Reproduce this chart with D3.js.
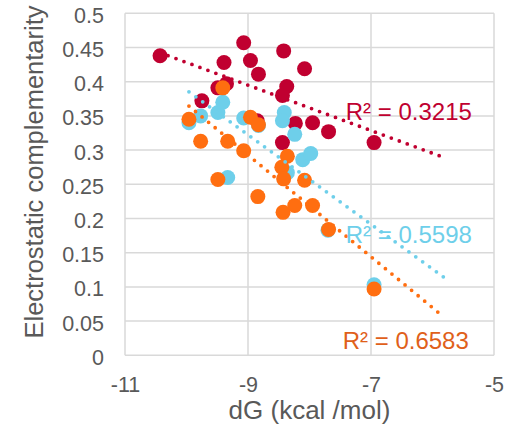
<!DOCTYPE html>
<html>
<head>
<meta charset="utf-8">
<script src="https://cdn.jsdelivr.net/npm/d3@7"></script>
<style>
  html, body { margin: 0; padding: 0; background: #fff; }
  svg { display: block; font-family: "Liberation Sans", Arial, sans-serif; }
</style>
</head>
<body>
<svg id="chart" width="505" height="428"></svg>
<script>
// Binding free energy (kcal/mol) against electrostatic complementarity, three series
const redDG = [-10.43, -9.07, -9.39, -8.96, -8.83, -8.42, -8.08, -8.37, -8.44,
               -9.49, -9.35, -9.75, -8.23, -7.95, -7.69, -6.95, -8.44, -8.85];
const redEC = [0.438, 0.457, 0.428, 0.431, 0.411, 0.445, 0.419, 0.393, 0.380,
               0.391, 0.397, 0.372, 0.339, 0.340, 0.327, 0.311, 0.311, 0.343];

const blueDG = [-9.96, -9.77, -9.49, -9.41, -9.07, -8.83, -8.41, -8.44, -8.24,
                -8.11, -7.98, -9.33, -8.36, -7.70, -6.95];
const blueEC = [0.340, 0.350, 0.355, 0.370, 0.347, 0.336, 0.355, 0.343, 0.323,
                0.286, 0.295, 0.260, 0.267, 0.183, 0.103];

const orangeDG = [-9.96, -9.41, -8.96, -8.83, -9.77, -9.33, -9.07, -9.49, -8.84,
                  -8.36, -8.45, -8.42, -8.08, -8.43, -8.24, -7.95, -7.69, -6.95];
const orangeEC = [0.345, 0.391, 0.348, 0.337, 0.313, 0.313, 0.299, 0.257, 0.232,
                  0.291, 0.275, 0.258, 0.256, 0.209, 0.219, 0.219, 0.184, 0.097];

const r2Labels = ["R² = 0.3215", "R² = 0.5598", "R² = 0.6583"];
const xTicks = [-11, -9, -7, -5];
const yTicks = [0, 0.05, 0.1, 0.15, 0.2, 0.25, 0.3, 0.35, 0.4, 0.45, 0.5];
const xTitle = "dG (kcal /mol)";
const yTitle = "Electrostatic complementarity";
const trendEnd = -5.82; // trendlines are extended forward to here

const svg = d3.select("#chart");
const plotL = 125, plotR = 494, plotT = 13.3, plotB = 355.3;

const x = d3.scaleLinear().domain([-11, -5]).range([plotL, plotR]);
const y = d3.scaleLinear().domain([0, 0.5]).range([plotB, plotT]);

const gridColor = "#d9d9d9";
const textColor = "#595959";

// gridlines
svg.append("g").selectAll("line").data(yTicks).join("line")
  .attr("x1", plotL).attr("x2", plotR)
  .attr("y1", d => y(d)).attr("y2", d => y(d))
  .attr("stroke", gridColor).attr("stroke-width", 1.5);
svg.append("g").selectAll("line").data(xTicks).join("line")
  .attr("x1", d => x(d)).attr("x2", d => x(d))
  .attr("y1", plotT).attr("y2", plotB)
  .attr("stroke", gridColor).attr("stroke-width", 1.5);

// axes (labels only; the frame comes from the gridlines)
const xAxis = d3.axisBottom(x).tickValues(xTicks).tickSize(0).tickPadding(0)
  .tickFormat(d => d < 0 ? "-" + Math.abs(d) : String(d));
const gx = svg.append("g").attr("transform", `translate(0,${plotB})`).call(xAxis);
gx.select(".domain").remove();
gx.selectAll("text")
  .attr("y", 37).attr("dy", null)
  .attr("fill", textColor).attr("font-size", 21.5)
  .attr("font-family", "Liberation Sans, Arial, sans-serif");

const yAxis = d3.axisLeft(y).tickValues(yTicks).tickSize(0).tickPadding(0)
  .tickFormat(d => d === 0 ? "0" : String(d));
const gy = svg.append("g").attr("transform", `translate(${plotL},0)`).call(yAxis);
gy.select(".domain").remove();
gy.selectAll("text")
  .attr("x", -21).attr("dy", 9).attr("text-anchor", "end")
  .attr("fill", textColor).attr("font-size", 21.5)
  .attr("font-family", "Liberation Sans, Arial, sans-serif");

// axis titles
svg.append("text")
  .attr("x", (plotL + plotR) / 2).attr("y", 419)
  .attr("text-anchor", "middle").attr("fill", textColor).attr("font-size", 26)
  .text(xTitle);
svg.append("text")
  .attr("transform", "translate(43,172) rotate(-90)")
  .attr("text-anchor", "middle").attr("fill", textColor).attr("font-size", 25.5)
  .text(yTitle);

const series = [
  { dg: redDG, ec: redEC, color: "#c00030", label: r2Labels[0], labelColor: "#c00030", lx: -7.41, ly: 0.3445 },
  { dg: blueDG, ec: blueEC, color: "#6ecfea", label: r2Labels[1], labelColor: "#6ecfea", lx: -7.41, ly: 0.1635 },
  { dg: orangeDG, ec: orangeEC, color: "#ff6e10", label: r2Labels[2], labelColor: "#e0601a", lx: -7.46, ly: 0.0085 }
];

// markers
series.forEach(s => {
  const pts = d3.zip(s.dg, s.ec);
  svg.append("g").selectAll("circle").data(pts).join("circle")
    .attr("cx", d => x(d[0])).attr("cy", d => y(d[1]))
    .attr("r", 7.5).attr("fill", s.color);
});

// least-squares trendlines
series.forEach(s => {
  const mx = d3.mean(s.dg), my = d3.mean(s.ec);
  const sxy = d3.sum(s.dg, (v, i) => (v - mx) * (s.ec[i] - my));
  const sxx = d3.sum(s.dg, v => (v - mx) * (v - mx));
  const slope = sxy / sxx, icpt = my - slope * mx;
  const x0 = d3.min(s.dg);
  const line = d3.line().x(d => x(d)).y(d => y(icpt + slope * d));
  svg.append("path")
    .attr("d", line([x0, trendEnd]))
    .attr("fill", "none").attr("stroke", s.color)
    .attr("stroke-width", 3.8).attr("stroke-linecap", "round")
    .attr("stroke-dasharray", "0 8.5");
});

// R² labels
series.forEach(s => {
  svg.append("text")
    .attr("x", x(s.lx)).attr("y", y(s.ly))
    .attr("fill", s.labelColor).attr("font-size", 24)
    .text(s.label);
});
</script>
</body>
</html>
